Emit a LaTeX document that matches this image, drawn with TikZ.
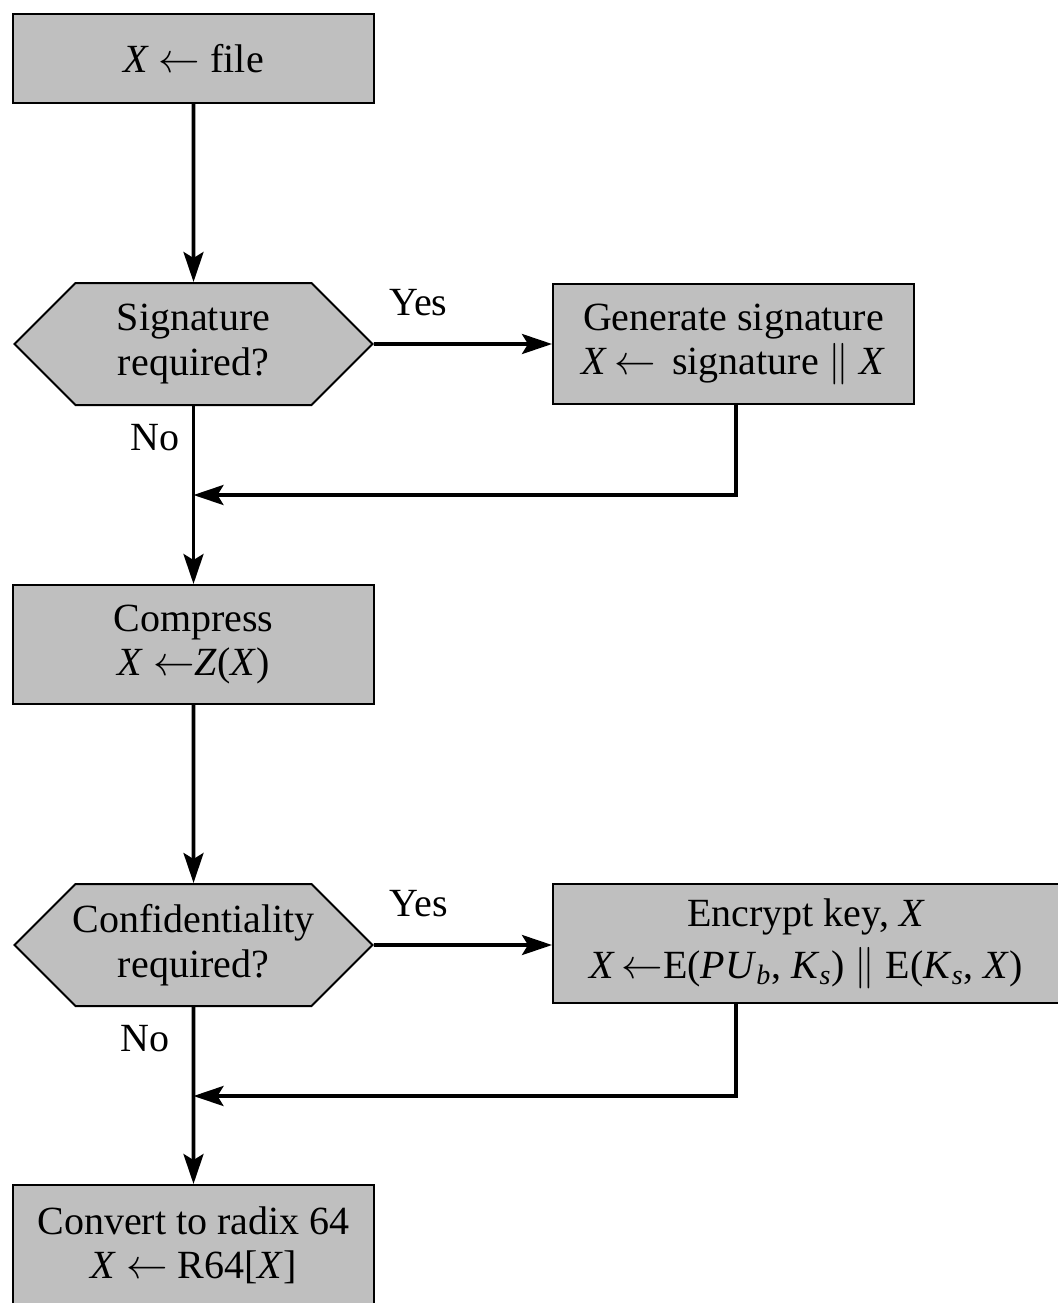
\documentclass[tikz,border=0pt]{standalone}
\usepackage{fontspec}
\setmainfont{Liberation Serif}
\usetikzlibrary{shapes.symbols,arrows.meta}

\tikzstyle{block}=[rectangle,draw,fill=black!25,line width=1pt,align=center,inner sep=0pt,font=\fontsize{20}{22}\selectfont]
\tikzstyle{decision}=[signal,signal to=west and east,signal pointer angle=90,draw,fill=black!25,line width=1pt,align=center,inner ysep=0pt,inner xsep=-3pt,minimum width=179pt,minimum height=61pt,font=\fontsize{20}{22.5}\selectfont]
\tikzstyle{flow} = [draw,line width=1.8pt,-{Stealth[length=15pt,width=10pt,inset=3pt]}]
\tikzstyle{answer}=[inner sep=0pt,font=\fontsize{20}{22}\selectfont]

\begin{document}
\begin{tikzpicture}[x=0.5pt,y=-0.5pt]
		\useasboundingbox (0,0) rectangle (1057,1303);
		\node[block,minimum width=180.5pt,minimum height=44.5pt] (file) at (193.5,58.5) {\textit{X} $\leftarrow$ file};
		\node[decision] (sigq) at (193.5,344) {Signature\\required?};
		\node[block,minimum width=180.5pt,minimum height=60pt] (gensig) at (733.5,344) {Generate signature\\\textit{X}\,$\leftarrow$\, signature $\|$ \textit{X}};
		\node[block,minimum width=180.5pt,minimum height=59.5pt] (compress) at (193.5,644.5) {Compress\\\textit{X} $\leftarrow$\textit{Z}(\textit{X})};
		\node[decision] (confq) at (193.5,945) {Confidentiality\\required?};
		\node[block,minimum width=253pt,minimum height=59.5pt] (encrypt) at (806,943.5) {Encrypt key, \textit{X}\\[4pt]\textit{X}\,$\leftarrow$E(\textit{PU}\textsubscript{\textit{b}}, \textit{K}\textsubscript{\textit{s}}) $\|$ E(\textit{K}\textsubscript{\textit{s}}, \textit{X})};
		\node[block,minimum width=180.5pt,minimum height=60pt] (radix) at (193.5,1245) {Convert to radix 64\\\textit{X} $\leftarrow$ R64[\textit{X}]};
		\coordinate (sigjoin) at (193.5,495);
		\coordinate (encjoin) at (193.5,1096);
		% Main line down the left side
		\foreach \source/ \dest in {file/sigq, compress/confq}
			\path[flow] (\source) -- (\dest);
		\path[flow] (sigq) -- node[answer,pos=0.18,left=6pt] {No} (compress);
		\path[flow] (confq) -- node[answer,pos=0.18,left=11pt] {No} (radix);
		% Yes branches and their way back
		\path[flow] (sigq) -- node[answer,pos=0.25,above=13pt] {Yes} (gensig);
		\path[flow] (confq) -- node[answer,pos=0.25,above=13pt] {Yes} (encrypt.west |- confq);
		\path[flow] (gensig.south -| 736,0) |- (sigjoin);
		\path[flow] (encrypt.south -| 736,0) |- (encjoin);
\end{tikzpicture}
\end{document}
